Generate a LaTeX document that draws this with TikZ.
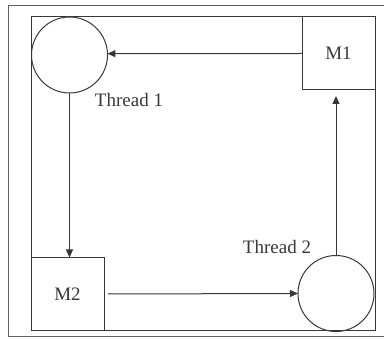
\documentclass[tikz,border=0pt]{standalone}
\usepackage{fontspec}
\setmainfont{Liberation Serif}
\usetikzlibrary{arrows.meta}
\definecolor{ink}{HTML}{383838}
\begin{document}
\begin{tikzpicture}[x=1pt,y=-1pt,
  every node/.style={inner sep=0pt,outer sep=0pt},
  frame/.style={draw=ink,line width=1pt},
  membox/.style={draw=ink,line width=1pt,minimum width=73pt,minimum height=73pt,font=\fontsize{19}{22}\selectfont,text=ink},
  thread/.style={draw=ink,line width=1pt,circle,minimum size=76pt},
  lbl/.style={font=\fontsize{19}{22}\selectfont,text=ink},
  conn/.style={draw=ink,line width=1pt,-{Triangle[length=8pt,width=7pt]}}]
\useasboundingbox (0,0) rectangle (384,339);
\draw[draw=ink!80,line width=0.9pt] (8,5) rectangle (387,336);
\draw[frame] (31,17) rectangle (375,331);
\node[membox] (m1) at (338.5,53.5) {M1};
\node[thread] (t1) at (69.5,55) {};
\node[membox] (m2) at (67.5,294) {M2};
\node[thread] (t2) at (336,293.5) {};
\node[lbl] (l1) at (129,100) {Thread 1};
\node[lbl] (l2) at (277,247) {Thread 2};
\draw[conn] (m1.west) -- (t1.2);
\draw[conn] (t1.south) -- (t1.south |- m2.north);
\draw[conn] ([xshift=4pt]m2.east) -- (t2.west);
\draw[conn,shorten >=6pt] (t2.north) -- (t2.north |- m1.south);
\end{tikzpicture}
\end{document}
